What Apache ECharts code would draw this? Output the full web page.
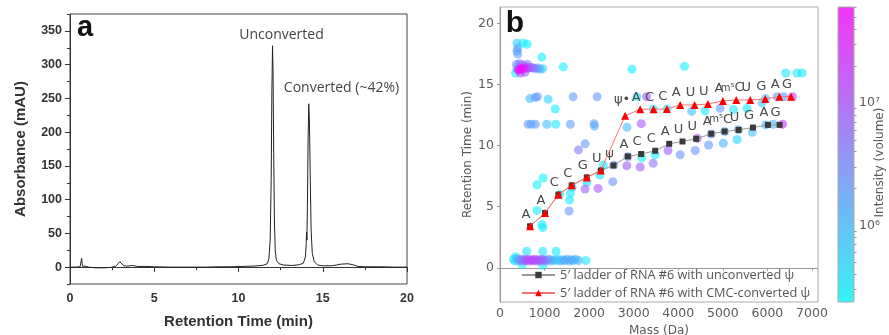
<!DOCTYPE html>
<html><head><meta charset="utf-8">
<script src="https://cdn.jsdelivr.net/npm/echarts@6.0.0/dist/echarts.min.js"></script>
<style>html,body{margin:0;padding:0;background:#fff}#c{width:889px;height:335px}</style>
</head><body><div id="c"></div>
<script>
// ---------- Panel a: chromatogram ----------
const chromTime = [0,0.3,0.6,0.66,0.69,0.72,0.76,0.9,1.1,1.5,2.0,2.4,2.7,2.85,2.95,3.05,3.2,3.4,3.7,4.0,4.5,5.0,6,7,8,8.8,9.5,10.2,10.8,11.2,11.5,11.7,11.8,11.88,11.94,11.98,12.02,12.05,12.09,12.13,12.18,12.25,12.4,12.7,13.2,13.6,13.85,13.97,14.02,14.04,14.06,14.09,14.13,14.17,14.21,14.26,14.31,14.38,14.5,14.7,15.0,15.5,15.8,16.1,16.5,16.8,17.1,17.5,18.5,19.3,20];
const chromAbs  = [0,0,0.5,3,13,5,1,1.5,0,-1,-1,-0.5,1,5,8,6,2,1.5,2.5,1,1,0.5,0,0,0,0.5,0.5,1,1.5,2,3,5,12,40,130,260,328,290,170,70,25,10,5,3,2.5,3.5,6,15,35,52,40,90,190,242,215,130,55,20,8,3,2,2,3,4.5,5,3.5,1,0.5,0.5,0,0];
const aXTicks = [0,5,10,15,20];
const aYTicks = [0,50,100,150,200,250,300,350];

// ---------- Panel b: 5' ladders ----------
const ladderMassUnconv = [674,1011,1310,1610,1947,2261,2546,2868,3167,3482,3796,4095,4402,4739,5039,5353,5675,6012,6274];
const ladderRTUnconv   = [3.40,4.49,5.99,6.75,7.40,7.97,8.38,9.12,9.31,9.58,10.15,10.34,10.56,10.97,11.16,11.29,11.48,11.70,11.70];
const ladderMassConv   = [674,1011,1310,1610,1947,2261,2808,3145,3444,3744,4043,4365,4664,5001,5301,5615,5952,6267,6529];
const ladderRTConv     = [3.40,4.49,5.99,6.75,7.40,7.97,12.44,12.98,12.98,13.00,13.33,13.33,13.41,13.66,13.74,13.74,13.82,14.01,14.01];
const ladderLabelsUnconv = ['A','A','C','C','G','U','ψ','A','C','C','A','U','U','A','m⁵C','U','G','A','G'];
const ladderLabelsConv   = ['A','A','C','C','G','U','ψ•','A','C','C','A','U','U','A','m⁵C','U','G','A','G'];
const seriesNames = ['5\u2032 ladder of RNA #6 with unconverted ψ','5\u2032 ladder of RNA #6 with CMC-converted ψ'];

// background MS features: mass (Da), retention time (min), log10 intensity
const bgMass = [380,520,610,400,380,400,940,350,380,410,450,490,530,570,610,650,700,750,800,850,900,960,370,440,520,620,460,560,1420,2960,4140,6410,6660,6780,
  670,790,840,1080,1640,2180,1240,3070,3290,
  630,700,790,1050,1250,1580,2110,2120,2850,3170,
  3440,3750,4300,4600,4940,5240,5540,5880,5960,6220,6360,6560,
  3770,4043,4380,4680,5010,5320,5660,4425,4740,5040,5350,5960,6130,6340,2320,2550,2846,3145,3437,3182,3482,2870,
  940,960,830,1550,1560,1580,1340,1620,966,831,1950,2240,1910,2200,2530,1760,1910,
  300,340,380,420,460,500,540,580,620,660,700,740,780,820,860,900,940,980,1020,1060,1100,1150,1200,1250,1300,1350,1400,1450,1500,1550,1600,1650,1700,1760,1930,600,960,1260,500,960,350];
const bgRT = [18.4,18.4,18.3,18.0,17.75,17.5,17.25,15.95,16.3,16.2,16.25,16.3,16.35,16.3,16.4,16.35,16.4,16.35,16.3,16.35,16.25,16.3,16.65,16.7,16.6,16.65,15.95,16.0,16.45,16.25,16.5,15.95,15.95,15.95,
  13.85,13.95,14.0,13.8,14.0,14.0,13.0,14.0,14.0,
  11.75,11.75,11.75,11.75,11.75,11.75,11.8,11.6,11.5,11.8,
  13.0,13.0,12.8,12.85,13.05,12.95,13.05,13.5,13.85,14.0,14.0,14.0,
  9.6,9.25,9.6,10.05,10.2,10.5,11.1,10.6,10.95,11.15,11.3,11.7,11.75,11.75,8.4,8.4,8.35,8.25,8.55,9.0,9.25,9.1,
  3.55,3.3,4.7,4.65,5.55,6.1,6.0,6.6,7.35,6.8,7.0,7.6,6.45,6.5,7.05,9.65,10.15,
  0.7,0.55,0.75,0.6,0.7,0.55,0.7,0.6,0.7,0.55,0.65,0.6,0.7,0.55,0.65,0.6,0.7,0.55,0.65,0.6,0.7,0.55,0.65,0.6,0.7,0.55,0.65,0.6,0.7,0.55,0.65,0.6,0.7,0.6,0.6,1.35,1.35,1.35,0.25,0.2,0.9];
const bgLogI = [5.8,5.5,5.5,6.1,6.3,6.2,5.5,5.6,6.1,7.7,7.75,7.6,7.4,7.2,7.0,6.9,6.8,6.7,6.5,6.2,6.0,5.8,6.4,6.7,6.9,6.6,7.1,6.8,5.5,5.5,5.5,5.6,5.6,5.6,
  6.0,6.3,6.3,5.8,6.3,6.3,5.5,5.6,6.9,
  6.3,6.2,6.3,6.0,5.6,6.3,6.3,6.0,6.0,7.0,
  5.6,5.6,6.0,5.6,6.3,5.6,5.6,5.9,6.0,6.3,6.3,7.3,
  6.9,6.4,6.4,6.3,6.1,5.8,6.0,7.0,6.3,6.1,6.2,6.0,6.1,7.3,5.5,6.3,6.9,6.9,6.7,5.5,5.5,6.4,
  5.5,5.6,5.5,6.4,5.6,5.6,5.6,5.8,5.5,5.5,5.7,5.5,6.9,7.0,6.4,6.6,6.3,
  5.6,5.6,6.0,6.3,6.4,6.6,6.7,6.9,7.0,7.0,7.1,7.1,7.0,7.0,6.9,6.7,6.9,6.7,6.4,6.3,6.3,6.1,6.0,5.8,5.7,6.0,6.0,6.2,6.2,6.1,6.2,6.0,6.0,6.1,5.6,5.6,5.6,5.6,5.5,5.5,5.6];
const bXTicks = [0,1000,2000,3000,4000,5000,6000,7000];
const bYTicks = [0,5,10,15,20];
const cbMajorTicks = [6,7];          // log10 of 1e6, 1e7
const cbLogMin = 5.374, cbLogMax = 7.784;

// ---------- build ----------
const chromData = chromTime.map((t,i)=>[t, chromAbs[i]]);
// draw weaker features first so intense ones sit on top
const bgData = bgMass.map((m,i)=>[m, bgRT[i], bgLogI[i]]).sort((a,b)=>a[2]-b[2]);
const cbMinorTicks = [];
for (let n=5;n<=7;n++) for (let k=2;k<=9;k++){ const v=Math.log10(k*Math.pow(10,n)); if(v>cbLogMin && v<cbLogMax) cbMinorTicks.push(v); }

const labelColor = '#4a4a4a';
const labelFmt = arr => p => { const t = arr[p.dataIndex]; return t === 'm⁵C' ? '{s|m⁵}C' : t; };
const ladderLabel = (arr) => ({show:true, position:'inside', offset:[-4,-12], fontFamily:'DejaVu Sans', fontSize:13, color:labelColor,
  formatter: labelFmt(arr), rich:{s:{fontSize:10, color:labelColor, fontFamily:'DejaVu Sans'}}});
const blackData = ladderMassUnconv.map((m,i)=>({value:[m, ladderRTUnconv[i]], label:{show: i>=6}}));
const redData = ladderMassConv.map((m,i)=> i===6 ? {value:[m, ladderRTConv[i]], label:{offset:[-3,-16]}} : {value:[m, ladderRTConv[i]]});

const gray = '#5a5a5a';
const bFont = {fontFamily:'DejaVu Sans', fontSize:12.5, color:gray};
const aFont = {fontFamily:'Liberation Sans', fontWeight:'bold', fontSize:12.5, color:'#333'};

const chart = echarts.init(document.getElementById('c'));
chart.setOption({
  animation:false,
  backgroundColor:'#fff',
  grid:[
    {left:70, top:14, width:337, height:270, show:true, borderColor:'#444', borderWidth:1, backgroundColor:'transparent', outerBoundsMode:'none', containLabel:false},
    {left:500, top:7, width:318, height:295, show:true, borderColor:'#aaa', borderWidth:1, backgroundColor:'transparent', outerBoundsMode:'none', containLabel:false},
    {left:838, top:7, width:16, height:295, show:true, borderColor:'#aaa', borderWidth:1, backgroundColor:'transparent', z:10, outerBoundsMode:'none', containLabel:false}
  ],
  xAxis:[
    {gridIndex:0, type:'value', min:0, max:20, interval:5,
     axisLine:{lineStyle:{color:'#333'}}, axisTick:{length:5, lineStyle:{color:'#333'}},
     minorTick:{show:true, splitNumber:2, length:3, lineStyle:{color:'#333'}},
     splitLine:{show:false}, axisLabel:Object.assign({margin:8, customValues:aXTicks}, aFont),
     name:'Retention Time (min)', nameLocation:'middle', nameGap:30,
     nameTextStyle:{fontFamily:'Liberation Sans', fontWeight:'bold', fontSize:15, color:'#333'}},
    {gridIndex:1, type:'value', min:0, max:7135,
     axisLine:{lineStyle:{color:'#999'}}, axisTick:{length:3, customValues:bXTicks, lineStyle:{color:'#999'}},
     splitLine:{show:false}, axisLabel:Object.assign({margin:5, customValues:bXTicks, formatter: v => String(Math.round(v))}, bFont),
     name:'Mass (Da)', nameLocation:'middle', nameGap:21, nameTextStyle:{fontFamily:'DejaVu Sans', fontSize:12, color:gray}},
    {gridIndex:2, type:'value', min:0, max:1, show:false}
  ],
  yAxis:[
    {gridIndex:0, type:'value', min:-25, max:375, position:'left',
     axisLine:{show:true, lineStyle:{color:'#333'}}, axisTick:{show:true, length:5, customValues:aYTicks, lineStyle:{color:'#333'}},
     splitLine:{show:false}, axisLabel:Object.assign({margin:8, customValues:aYTicks}, aFont),
     name:'Absorbance (mAU)', nameLocation:'middle', nameGap:42,
     nameTextStyle:{fontFamily:'Liberation Sans', fontWeight:'bold', fontSize:15, color:'#333'}},
    {gridIndex:0, type:'value', min:-25, max:375, interval:25, position:'left', offset:0,
     axisLine:{show:false}, axisTick:{show:true, length:3, lineStyle:{color:'#333'}},
     axisLabel:{show:false}, splitLine:{show:false}},
    {gridIndex:1, type:'value', min:-2.8, max:21.35,
     axisLine:{show:true, lineStyle:{color:'#999'}}, axisTick:{show:true, length:3, customValues:bYTicks, lineStyle:{color:'#999'}},
     splitLine:{show:false}, axisLabel:Object.assign({margin:6, customValues:bYTicks}, bFont),
     name:'Retention Time (min)', nameLocation:'middle', nameGap:24, nameTextStyle:{fontFamily:'DejaVu Sans', fontSize:12, color:gray}},
    {gridIndex:2, type:'value', min:cbLogMin, max:cbLogMax, position:'right',
     axisLine:{show:false}, axisTick:{show:true, length:5, customValues:cbMajorTicks, lineStyle:{color:'#999'}},
     splitLine:{show:false},
     axisLabel:Object.assign({margin:5, customValues:cbMajorTicks, formatter: v => '10' + (Math.round(v)===6 ? '⁶' : '⁷')}, bFont),
     name:'Intensity (volume)', nameLocation:'middle', nameGap:20, nameMoveOverlap:false,
     nameTextStyle:{fontFamily:'DejaVu Sans', fontSize:12, color:gray, padding:[0,16,0,0]}},
    {gridIndex:2, type:'value', min:cbLogMin, max:cbLogMax, position:'right', offset:0,
     axisLine:{show:false}, axisTick:{show:true, length:2.5, customValues:cbMinorTicks, lineStyle:{color:'#999'}},
     axisLabel:{show:false}, splitLine:{show:false}}
  ],
  visualMap:{
    type:'continuous', min:cbLogMin, max:cbLogMax, dimension:2, seriesIndex:[1],
    inRange:{color:['rgba(0,255,255,0.75)','rgba(255,0,255,0.75)']},
    calculable:false, hoverLink:false, left:838, top:7, itemWidth:16, itemHeight:295, padding:0, text:null, z:4
  },
  legend:{
    data:seriesNames, orient:'vertical', left:521, top:268, itemGap:4, itemWidth:33, itemHeight:8, padding:0,
    textStyle:{fontFamily:'Open Sans', fontSize:12.7, color:'#555', lineHeight:14}
  },
  graphic:[
    {type:'text', x:85, y:28, style:{text:'a', font:'bold 29px "Liberation Sans"', fill:'#111', align:'center', verticalAlign:'middle'}},
    {type:'text', x:515, y:24, style:{text:'b', font:'bold 30px "Liberation Sans"', fill:'#111', align:'center', verticalAlign:'middle'}},
    {type:'text', x:281.5, y:35, style:{text:'Unconverted', font:'14px "Open Sans"', fill:'#444', align:'center', verticalAlign:'middle'}},
    {type:'text', x:341.5, y:88, style:{text:'Converted (~42%)', font:'14px "Open Sans"', fill:'#444', align:'center', verticalAlign:'middle'}}
  ],
  series:[
    {type:'line', xAxisIndex:0, yAxisIndex:0, data:chromData, showSymbol:false, symbol:'none',
     lineStyle:{color:'#222', width:1}, silent:true},
    {type:'scatter', xAxisIndex:1, yAxisIndex:2, data:bgData, symbolSize:9, silent:true, z:2},
    {type:'line', name:seriesNames[0], xAxisIndex:1, yAxisIndex:2, data:blackData, symbol:'rect', symbolSize:6,
     itemStyle:{color:'#3a3a3a'}, lineStyle:{color:'#999', width:1}, label:ladderLabel(ladderLabelsUnconv), z:3},
    {type:'line', name:seriesNames[1], xAxisIndex:1, yAxisIndex:2, data:redData, symbol:'triangle', symbolSize:8,
     itemStyle:{color:'#ff0000'}, lineStyle:{color:'#ff7070', width:1}, label:ladderLabel(ladderLabelsConv), z:4}
  ]
});
</script></body></html>
